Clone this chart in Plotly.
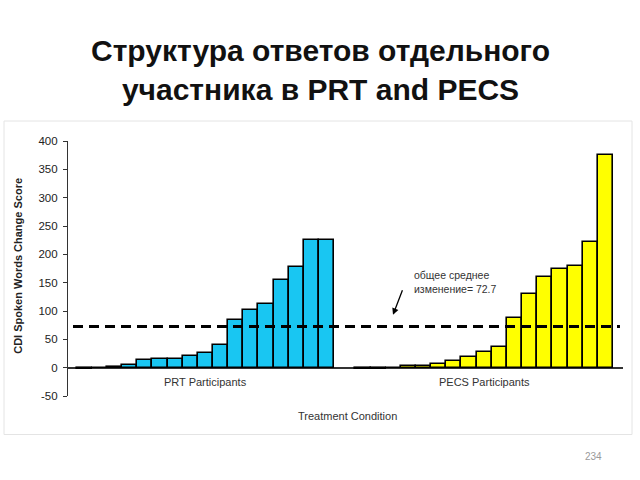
import plotly.graph_objects as go

# ---- data ----
group_names = ["PRT Participants", "PECS Participants"]
prt_values = [-2, 0, 2, 5, 13, 16, 16, 21, 26, 40, 85, 102, 112, 154, 178, 225, 226]
pecs_values = [-2, -2, 0, 3, 3, 7, 12, 18, 28, 36, 88, 130, 160, 174, 180, 221, 375]
overall_mean = 72.7
y_ticks = [-50, 0, 50, 100, 150, 200, 250, 300, 350, 400]
y_tick_labels = ["-50", "0", "50", "100", "150", "200", "250", "300", "350", "400"]
title_text = "Структура ответов отдельного<br>участника в PRT and PECS"
y_title = "CDI Spoken Words Change Score"
x_title = "Treatment Condition"
mean_label = "общее среднее<br>изменение= 72.7"
page_no = "234"

# ---- layout helpers ----
group_offset = 18.4
prt_x = list(range(len(prt_values)))
pecs_x = [i + group_offset for i in range(len(pecs_values))]

PRT_COLOR = "#19C6F2"
PECS_COLOR = "#FFFF00"
FONT = "Liberation Sans, Arial"

# plot-area pixel geometry (used to convert pixel positions to paper coords)
L, R, T, B = 68, 623, 141, 396.4
def px(xp):
    return (xp - L) / (R - L)
def py(yp):
    return (B - yp) / (B - T)

fig = go.Figure()
fig.add_trace(go.Bar(x=prt_x, y=prt_values, width=1.0,
                     marker=dict(color=PRT_COLOR, line=dict(color="#000000", width=1.6)),
                     showlegend=False, hoverinfo="y"))
fig.add_trace(go.Bar(x=pecs_x, y=pecs_values, width=1.0,
                     marker=dict(color=PECS_COLOR, line=dict(color="#000000", width=1.6)),
                     showlegend=False, hoverinfo="y"))

# dashed mean line
fig.add_shape(type="line", xref="x", yref="y", x0=-0.74, x1=35.36,
              y0=overall_mean, y1=overall_mean,
              line=dict(color="#000000", width=3, dash="10px,6px"), layer="above")

# light frame around chart image
fig.add_shape(type="rect", xref="paper", yref="paper",
              x0=px(4), x1=px(632), y0=py(435), y1=py(121),
              line=dict(color="#e4e4e4", width=1), layer="below")

annotations = []
# title
annotations.append(dict(x=px(320), y=py(70), xref="paper", yref="paper", text=title_text,
                        showarrow=False, xanchor="center", yanchor="middle", align="center",
                        font=dict(family=FONT, size=30, color="#111111", weight="bold")))
# group labels
centers = [sum(prt_x) / len(prt_x), sum(pecs_x) / len(pecs_x)]
for name, cx in zip(group_names, centers):
    annotations.append(dict(x=cx, y=-25, xref="x", yref="y", text=name, showarrow=False,
                            font=dict(family=FONT, size=11, color="#333333"),
                            xanchor="center", yanchor="middle"))
# x title
annotations.append(dict(x=px(347), y=py(416), xref="paper", yref="paper", text=x_title,
                        showarrow=False, xanchor="center", yanchor="middle",
                        font=dict(family=FONT, size=11, color="#333333")))
# y title
annotations.append(dict(x=px(18), y=py(266), xref="paper", yref="paper", text=y_title,
                        showarrow=False, textangle=-90, xanchor="center", yanchor="middle",
                        font=dict(family=FONT, size=11, color="#222222", weight="bold")))
# mean label
annotations.append(dict(x=21.64, y=150.5, xref="x", yref="y", text=mean_label,
                        showarrow=False, xanchor="left", yanchor="middle", align="left",
                        font=dict(family=FONT, size=10.5, color="#333333")))
# arrow
annotations.append(dict(x=20.38, y=93.3, xref="x", yref="y", text="", showarrow=True,
                        ax=10, ay=-26, arrowhead=2, arrowsize=1, arrowwidth=1.3,
                        arrowcolor="#000000"))
# page number
annotations.append(dict(x=px(593), y=py(457), xref="paper", yref="paper",
                        text=page_no, showarrow=False, xanchor="center", yanchor="middle",
                        font=dict(family=FONT, size=10, color="#9a9a9a")))

fig.update_layout(
    width=640, height=480,
    margin=dict(l=L, r=640 - R, t=T, b=480 - B, pad=0),
    paper_bgcolor="#ffffff", plot_bgcolor="#ffffff",
    bargap=0,
    xaxis=dict(range=[-1.07, 35.56], showgrid=False, zeroline=False, showticklabels=False,
               ticks="", showline=False, fixedrange=True),
    yaxis=dict(range=[-50, 400], tickvals=y_ticks, ticktext=y_tick_labels,
               showgrid=False, zeroline=True,
               zerolinecolor="#333333", zerolinewidth=1.5,
               showline=True, linecolor="#333333", linewidth=1.2,
               ticks="outside", ticklen=4, tickcolor="#333333", tickwidth=1.2,
               tickfont=dict(family=FONT, size=11.5, color="#222222"),
               ticklabelstandoff=3),
    annotations=annotations,
)

fig.write_html("out.html")
